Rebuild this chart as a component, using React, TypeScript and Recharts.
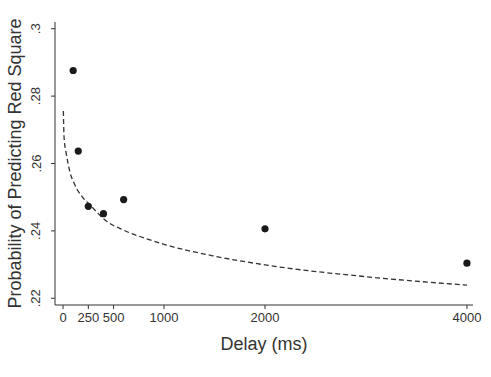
import React from 'react';
import { ComposedChart, Scatter, Line, XAxis, YAxis, Label } from 'recharts';

// observed probabilities per delay
const delays = [100, 150, 250, 400, 600, 2000, 4000];
const probs = [0.2876, 0.2637, 0.2473, 0.2451, 0.2493, 0.2406, 0.2304];

// fitted curve
const fitDelays = [3, 10, 33, 66, 116, 198, 264, 416, 600, 813, 1000, 1500, 2000, 3000, 4000];
const fitProbs = [0.2756, 0.2677, 0.2627, 0.2577, 0.2537, 0.2498, 0.2478, 0.2432, 0.2402, 0.2378, 0.236, 0.2325, 0.2299, 0.2264, 0.2239];

const xTicks = [0, 250, 500, 1000, 2000, 4000];
const yTicks = [0.22, 0.24, 0.26, 0.28, 0.3];

const points = delays.map((d, i) => ({ x: d, y: probs[i] }));
const fit = fitDelays.map((d, i) => ({ x: d, y: fitProbs[i] }));

const axisColor = '#333';
const font = '"Liberation Sans", Arial, sans-serif';

const fmtY = (v: number) => v.toFixed(2).replace(/^0/, '').replace(/0$/, '');

const YTick = (props: any) => {
  const { y, payload } = props;
  const x = 36;
  return (
    <text
      x={x}
      y={y}
      transform={`rotate(-90, ${x}, ${y})`}
      textAnchor="middle"
      dominantBaseline="central"
      fontSize={13}
      fill={axisColor}
      fontFamily={font}
    >
      {fmtY(payload.value)}
    </text>
  );
};

export default function App() {
  return (
    <div style={{ width: 491, height: 377, background: '#fff' }}>
      <style>{`body{margin:0}`}</style>
      <ComposedChart width={491} height={377} margin={{ top: 22, right: 18, bottom: 27, left: 0 }}>
        <XAxis
          type="number"
          dataKey="x"
          domain={[-80, 4060]}
          ticks={xTicks}
          interval={0}
          height={45}
          stroke={axisColor}
          tickSize={4}
          tick={{ fontSize: 13, fill: axisColor, fontFamily: font }}
          tickMargin={4}
          allowDataOverflow
        >
          <Label value="Delay (ms)" position="insideBottom" offset={0} fontSize={18} fill={axisColor} fontFamily={font} />
        </XAxis>
        <YAxis
          type="number"
          dataKey="y"
          domain={[0.218, 0.302]}
          ticks={yTicks}
          interval={0}
          width={55}
          stroke={axisColor}
          tickSize={4}
          tick={<YTick />}
          allowDataOverflow
        >
          <Label
            content={(p: any) => {
              const vb = p.viewBox;
              const cx = 15;
              const cy = vb.y + vb.height / 2;
              return (
                <text
                  x={cx}
                  y={cy}
                  transform={`rotate(-90, ${cx}, ${cy})`}
                  textAnchor="middle"
                  dominantBaseline="central"
                  fontSize={18}
                  fill={axisColor}
                  fontFamily={font}
                >
                  Probability of Predicting Red Square
                </text>
              );
            }}
          />
        </YAxis>
        <Line
          data={fit}
          dataKey="y"
          type="monotone"
          stroke="#333"
          strokeWidth={1.3}
          strokeDasharray="5 3"
          dot={false}
          activeDot={false}
          isAnimationActive={false}
        />
        <Scatter
          data={points}
          dataKey="y"
          fill="#1a1a1a"
          shape={(p: any) => <circle cx={p.cx} cy={p.cy} r={3.6} fill="#1a1a1a" />}
          isAnimationActive={false}
        />
      </ComposedChart>
    </div>
  );
}
